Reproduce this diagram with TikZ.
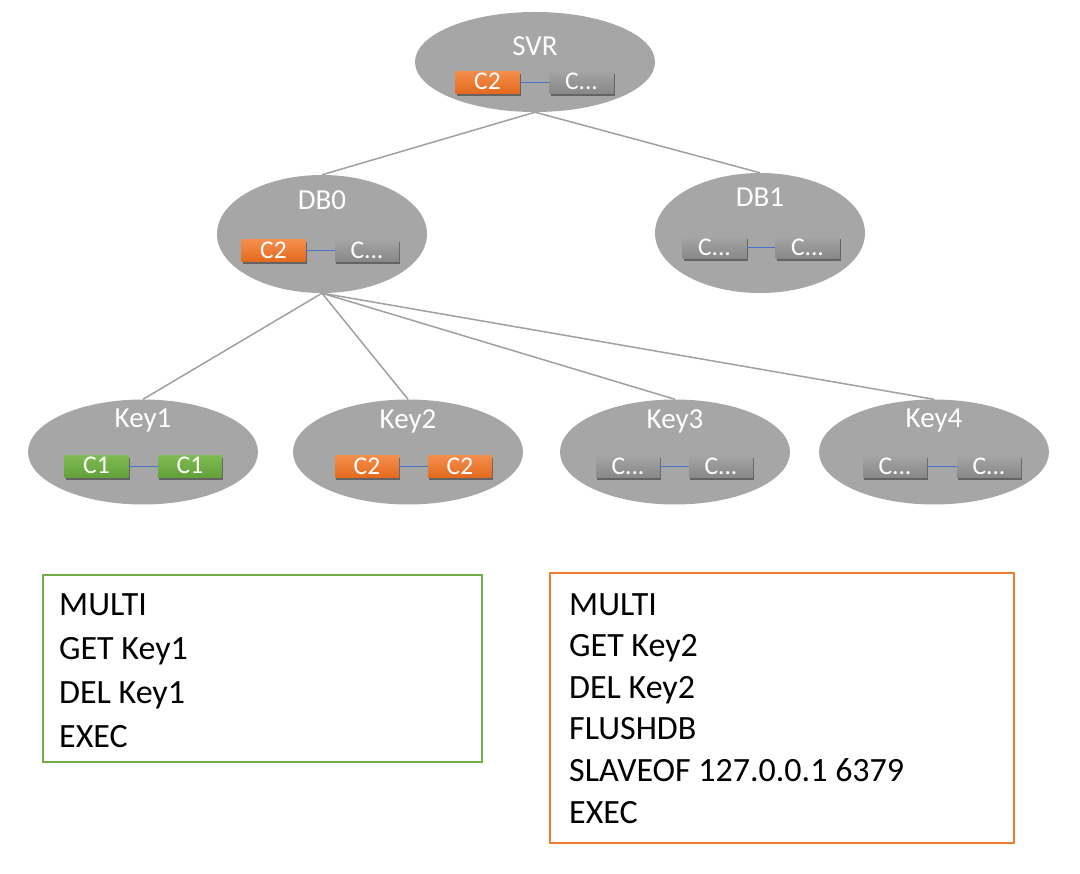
\documentclass[tikz,border=0pt]{standalone}
\usepackage{fontspec}
\setmainfont{Carlito}
\usetikzlibrary{shapes.geometric,shadows}
\definecolor{ellgray}{HTML}{A6A6A6}
\definecolor{treeline}{HTML}{A0A0A0}
\definecolor{gyT}{HTML}{A4A4A4}
\definecolor{gyB}{HTML}{878787}
\definecolor{orT}{HTML}{F38D4C}
\definecolor{orB}{HTML}{E3691C}
\definecolor{grT}{HTML}{7FBB52}
\definecolor{grB}{HTML}{62A03A}
\definecolor{linkblue}{HTML}{4472C4}
\definecolor{frameorange}{HTML}{ED7D31}
\definecolor{framegreen}{HTML}{70AD47}
\tikzset{
  ell/.style={ellipse, fill=ellgray, inner sep=0pt, minimum width=230pt, minimum height=105pt},
  lbl/.style={anchor=base, text=white, inner sep=0pt, font=\fontsize{29}{31}\selectfont},
  cbox/.style={rectangle, inner sep=0pt, minimum width=64pt, minimum height=22pt,
     text height=14.5pt, text depth=0pt, text=white, font=\fontsize{25.5}{27}\selectfont,
     drop shadow={shadow xshift=1pt, shadow yshift=-2.5pt, opacity=0.4, fill=black}},
  gybox/.style={cbox, top color=gyT, bottom color=gyB},
  orbox/.style={cbox, top color=orT, bottom color=orB},
  grbox/.style={cbox, top color=grT, bottom color=grB},
  tree/.style={draw=treeline, line width=1.5pt},
  link/.style={draw=linkblue, line width=1pt},
  cmdframe/.style={rectangle, inner sep=0pt, line width=2pt, fill=white},
  cmdtext/.style={anchor=base west, inner sep=0pt, align=left, text=black}
}
\begin{document}
\begin{tikzpicture}[x=1pt, y=-1pt]
\useasboundingbox (0,0) rectangle (1080,874);
\fill[white] (0,0) rectangle (1080,874);

% ellipses
\node[ell, minimum width=240pt, minimum height=100pt] (svr) at (535,62) {};
\node[ell, minimum width=210pt, minimum height=118pt] (db0) at (322,234) {};
\node[ell, minimum width=210pt, minimum height=120pt] (db1) at (760,233) {};
\node[ell] (k1) at (143,452) {};
\node[ell] (k2) at (408,452) {};
\node[ell] (k3) at (675,452) {};
\node[ell] (k4) at (934,452) {};

% tree connectors
\draw[tree] (svr.south) -- (db0.north);
\draw[tree] (svr.south) -- (db1.north);
\draw[tree] (db0.south) -- (k1.north);
\draw[tree] (db0.south) -- (k2.north);
\draw[tree] (db0.south) -- (k3.north);
\draw[tree] (db0.south) -- (k4.north);

% labels
\node[lbl] (svrl) at (535,56) {SVR};
\node[lbl] (db0l) at (322,210) {DB0};
\node[lbl] (db1l) at (760,207) {DB1};
\node[lbl] (k1l) at (143,428) {Key1};
\node[lbl] (k2l) at (408,429) {Key2};
\node[lbl] (k3l) at (675,429) {Key3};
\node[lbl] (k4l) at (934,428) {Key4};

% inner boxes
\node[orbox] (svra) at (487.5,82.5) {C2};
\node[gybox] (svrb) at (581.5,82.5) {C...};
\draw[link] (svra) -- (svrb);

\node[orbox] (db0a) at (273.5,251) {C2};
\node[gybox] (db0b) at (367,251) {C...};
\draw[link] (db0a) -- (db0b);

\node[gybox] (db1a) at (714.5,248) {C...};
\node[gybox] (db1b) at (807.5,248) {C...};
\draw[link] (db1a) -- (db1b);

\node[grbox] (k1a) at (96.5,466.5) {C1};
\node[grbox] (k1b) at (190,466.5) {C1};
\draw[link] (k1a) -- (k1b);

\node[orbox] (k2a) at (367,467) {C2};
\node[orbox] (k2b) at (460,467) {C2};
\draw[link] (k2a) -- (k2b);

\node[gybox] (k3a) at (628,467) {C...};
\node[gybox] (k3b) at (721,467) {C...};
\draw[link] (k3a) -- (k3b);

\node[gybox] (k4a) at (895,467) {C...};
\node[gybox] (k4b) at (989,467) {C...};
\draw[link] (k4a) -- (k4b);

% command frames
\node[cmdframe, draw=framegreen, minimum width=439pt, minimum height=187pt] (gframe) at (262.5,668.5) {};
\node[cmdframe, draw=frameorange, minimum width=464pt, minimum height=270pt] (oframe) at (782,708) {};

\node[cmdtext, font=\fontsize{34}{44}\selectfont] (gtext) at (59,747)
  {MULTI\\GET Key1\\DEL Key1\\EXEC};
\node[cmdtext, font=\fontsize{34}{41.6}\selectfont] (otext) at (569,823)
  {MULTI\\GET Key2\\DEL Key2\\FLUSHDB\\SLAVEOF 127.0.0.1 6379\\EXEC};
\end{tikzpicture}
\end{document}
